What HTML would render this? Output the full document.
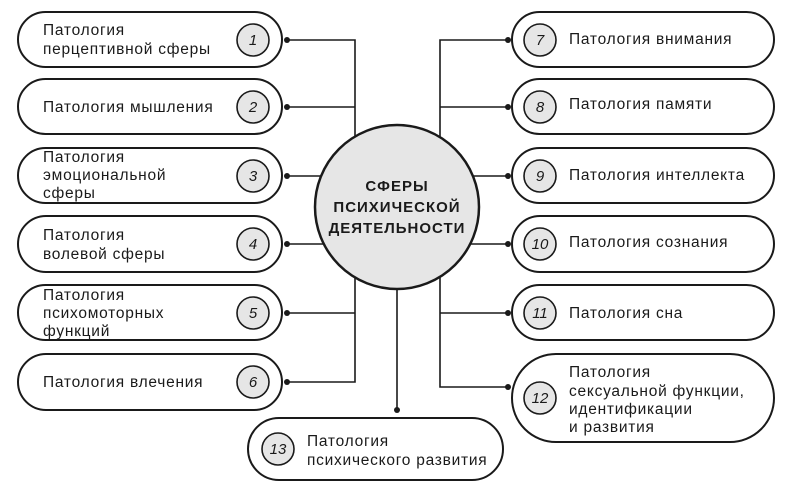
<!DOCTYPE html>
<html><head><meta charset="utf-8"><style>
html,body{margin:0;padding:0;background:#fff;width:785px;height:487px;overflow:hidden}
svg text{font-family:"Liberation Sans",sans-serif;fill:#1a1a1a}
.t{font-size:15.5px;letter-spacing:0.75px}
.n{font-size:15px;font-style:italic}
.b{fill:#fff;stroke:#1a1a1a;stroke-width:2}
.c{fill:#e6e6e6;stroke:#1a1a1a;stroke-width:1.6}
.l{stroke:#1a1a1a;stroke-width:1.6;fill:none}
</style></head><body>
<svg width="785" height="487" viewBox="0 0 785 487" xmlns="http://www.w3.org/2000/svg">
<path class="l" d="M287 40H355V382H287 M287 107H355 M287 176H355 M287 244H355 M287 313H355"/>
<path class="l" d="M508 40H440V387H508 M508 107H440 M508 176H440 M508 244H440 M508 313H440"/>
<path class="l" d="M397 280V410"/>
<g fill="#1a1a1a">
<circle cx="287" cy="40" r="3"/><circle cx="287" cy="107" r="3"/><circle cx="287" cy="176" r="3"/><circle cx="287" cy="244" r="3"/><circle cx="287" cy="313" r="3"/><circle cx="287" cy="382" r="3"/>
<circle cx="508" cy="40" r="3"/><circle cx="508" cy="107" r="3"/><circle cx="508" cy="176" r="3"/><circle cx="508" cy="244" r="3"/><circle cx="508" cy="313" r="3"/><circle cx="508" cy="387" r="3"/>
<circle cx="397" cy="410" r="3"/>
</g>
<rect class="b" x="18" y="12" width="264" height="55" rx="27.5"/>
<rect class="b" x="18" y="79" width="264" height="55" rx="27.5"/>
<rect class="b" x="18" y="148" width="264" height="55" rx="27.5"/>
<rect class="b" x="18" y="216" width="264" height="56" rx="28"/>
<rect class="b" x="18" y="285" width="264" height="55" rx="27.5"/>
<rect class="b" x="18" y="354" width="264" height="56" rx="28"/>
<g class="c"><circle cx="253" cy="40" r="16"/><circle cx="253" cy="107" r="16"/><circle cx="253" cy="176" r="16"/><circle cx="253" cy="244" r="16"/><circle cx="253" cy="313" r="16"/><circle cx="253" cy="382" r="16"/></g>
<g class="n" text-anchor="middle"><text x="253" y="45">1</text><text x="253" y="112">2</text><text x="253" y="181">3</text><text x="253" y="249">4</text><text x="253" y="318">5</text><text x="253" y="387">6</text></g>
<g class="t">
<text x="43" y="35">Патология</text><text x="43" y="54">перцептивной сферы</text>
<text x="43" y="112">Патология мышления</text>
<text x="43" y="162">Патология</text><text x="43" y="180">эмоциональной</text><text x="43" y="198">сферы</text>
<text x="43" y="240">Патология</text><text x="43" y="259">волевой сферы</text>
<text x="43" y="300">Патология</text><text x="43" y="318">психомоторных</text><text x="43" y="336">функций</text>
<text x="43" y="387">Патология влечения</text>
</g>
<rect class="b" x="512" y="12" width="262" height="55" rx="27.5"/>
<rect class="b" x="512" y="79" width="262" height="55" rx="27.5"/>
<rect class="b" x="512" y="148" width="262" height="55" rx="27.5"/>
<rect class="b" x="512" y="216" width="262" height="56" rx="28"/>
<rect class="b" x="512" y="285" width="262" height="55" rx="27.5"/>
<rect class="b" x="512" y="354" width="262" height="88" rx="44"/>
<g class="c"><circle cx="540" cy="40" r="16"/><circle cx="540" cy="107" r="16"/><circle cx="540" cy="176" r="16"/><circle cx="540" cy="244" r="16"/><circle cx="540" cy="313" r="16"/><circle cx="540" cy="398" r="16"/></g>
<g class="n" text-anchor="middle"><text x="540" y="45">7</text><text x="540" y="112">8</text><text x="540" y="181">9</text><text x="540" y="249">10</text><text x="540" y="318">11</text><text x="540" y="403">12</text></g>
<g class="t">
<text x="569" y="44">Патология внимания</text>
<text x="569" y="109">Патология памяти</text>
<text x="569" y="180">Патология интеллекта</text>
<text x="569" y="247">Патология сознания</text>
<text x="569" y="318">Патология сна</text>
<text x="569" y="377">Патология</text><text x="569" y="396">сексуальной функции,</text><text x="569" y="414">идентификации</text><text x="569" y="432">и развития</text>
</g>
<rect class="b" x="248" y="418" width="255" height="62" rx="31"/>
<circle class="c" cx="278" cy="449" r="16"/>
<text class="n" x="278" y="454" text-anchor="middle">13</text>
<g class="t"><text x="307" y="446">Патология</text><text x="307" y="465">психического развития</text></g>
<circle cx="397" cy="207" r="82" fill="#e6e6e6" stroke="#1a1a1a" stroke-width="2.5"/>
<g font-weight="bold" font-size="15" letter-spacing="1" text-anchor="middle">
<text x="397" y="191">СФЕРЫ</text><text x="397" y="212">ПСИХИЧЕСКОЙ</text><text x="397" y="233">ДЕЯТЕЛЬНОСТИ</text>
</g>
</svg>
</body></html>
